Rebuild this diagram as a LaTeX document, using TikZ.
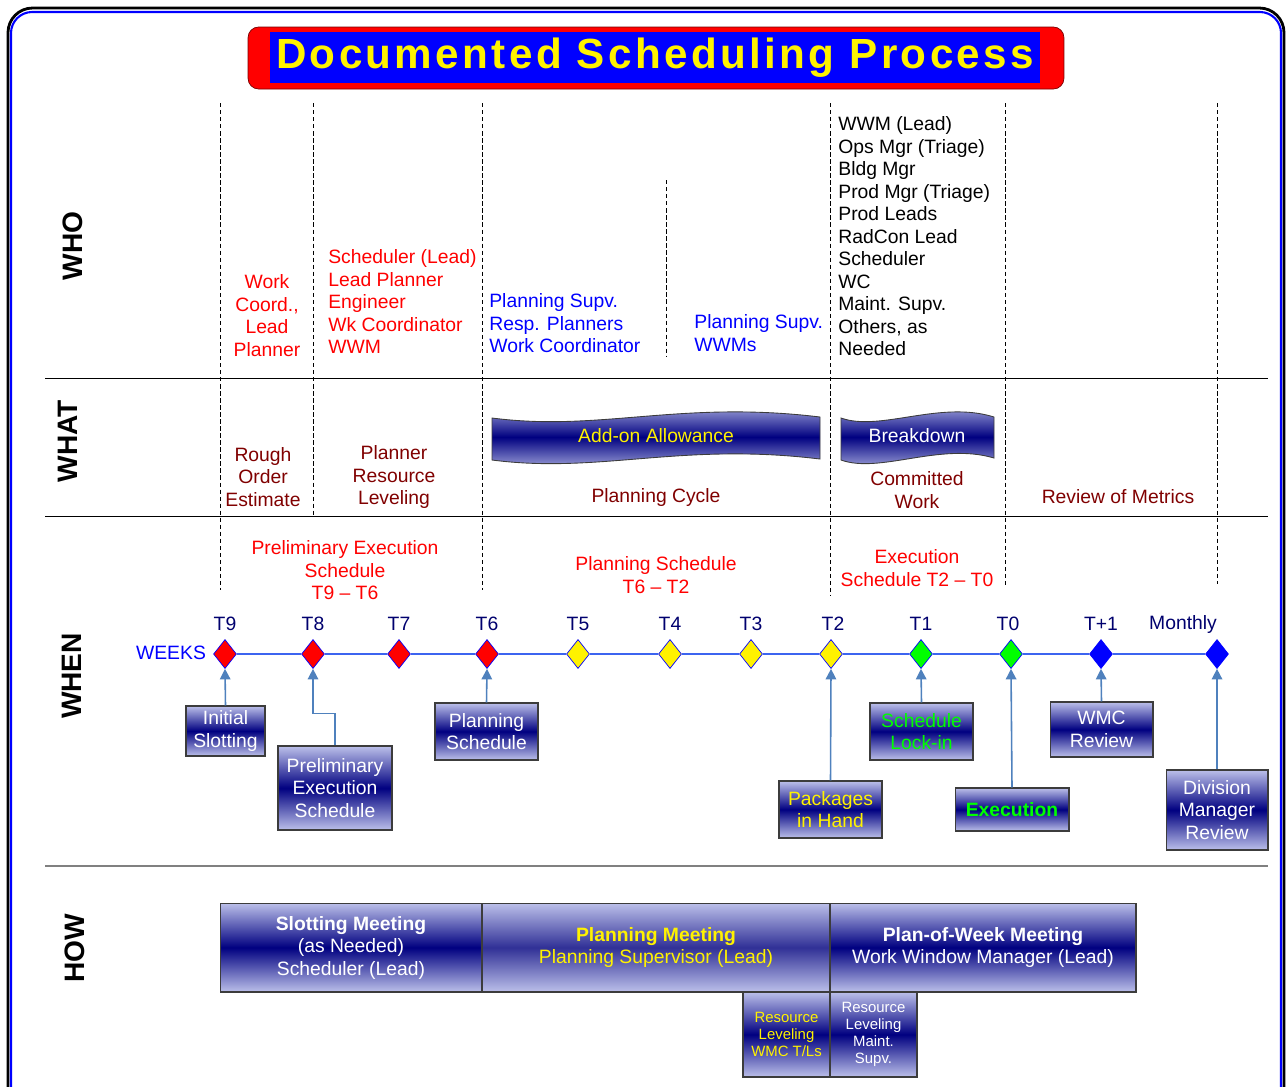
\documentclass[tikz,border=0pt]{standalone}
\usepackage{fontspec}
\setmainfont{Liberation Sans}
\usetikzlibrary{arrows.meta, positioning, shapes.geometric, calc}

\definecolor{boxdark}{RGB}{0,0,128}
\definecolor{boxlight}{RGB}{188,192,234}
\definecolor{planmid}{RGB}{48,48,150}
\definecolor{boxedge}{RGB}{60,60,60}
\definecolor{connblue}{RGB}{79,129,189}
\definecolor{axisblue}{RGB}{60,100,240}
\definecolor{maroon}{RGB}{128,0,0}
\definecolor{tnavy}{RGB}{0,0,110}

\begin{document}
\begin{tikzpicture}[x=0.02cm, y=-0.02cm, font=\fontsize{11}{12.8}\selectfont,
    box/.style={draw=boxedge, line width=0.6pt, top color=boxlight, bottom color=boxlight,
        middle color=boxdark, text=white, align=center, inner sep=0pt},
    conn/.style={draw=connblue, line width=0.9pt, -{Triangle[width=6pt,length=6pt]}},
    tick/.style={diamond, draw=blue, line width=0.4pt, inner sep=0pt,
        minimum width=0.46cm, minimum height=0.58cm},
    divider/.style={dash pattern=on 2.5pt off 1.5pt, line width=0.5pt},
    sect/.style={rotate=90, font=\fontsize{16}{18}\selectfont\bfseries},
    axis/.style={draw=axisblue, line width=0.8pt},
    roster/.style={align=left, anchor=west, inner sep=0pt}]
    \clip (0,0) rectangle (1287,1086);

    % Outer frame
    \draw[black, line width=1.6pt, rounded corners=14pt] (8,8) rectangle (1284,1120);
    \draw[blue, line width=1.2pt, rounded corners=12pt] (11,12) rectangle (1281,1120);

    % Title
    \node[fill=red, draw={rgb,255:red,120;green,0;blue,0}, rounded corners=6pt,
        minimum width=16.32cm, minimum height=1.24cm] (titleframe) at (656,58) {};
    \node[fill=blue, minimum width=15.28cm, minimum height=1.02cm, text=yellow,
        font=\fontsize{24}{26}\selectfont\bfseries\addfontfeature{LetterSpace=8}]
        (title) at (655,57.5) {Documented Scheduling Process};

    % Section rules
    \draw[line width=0.5pt] (45,378) -- (1268,378);
    \draw[line width=0.5pt] (45,516) -- (1268,516);
    \draw[gray, line width=0.6pt] (45,866) -- (1268,866);

    % Dashed dividers
    \foreach \x/\a/\b in {220/103/590, 313/103/516, 482/103/590, 666/180/357,
        830/103/596, 1005/103/586, 1217/103/584}
        \draw[divider] (\x,\a) -- (\x,\b);

    % Section names
    \foreach \nm/\x/\y in {WHO/73/246, WHAT/68/441, WHEN/72/676, HOW/75/948}
        \node[sect] (s\nm) at (\x,\y) {\nm};

    % WHO
    \node[red, align=center] (whoWC) at (267,315.5) {Work\\Coord.,\\Lead\\Planner};
    \node[red, roster] (whoSched) at (328,301.5)
        {Scheduler (Lead)\\Lead Planner\\Engineer\\Wk Coordinator\\WWM};
    \node[blue, roster] (whoPlan) at (489,323.5)
        {Planning Supv.\\Resp. Planners\\Work Coordinator};
    \node[blue, roster] (whoWWM) at (694,333) {Planning Supv.\\WWMs};
    \node[roster] (whoPOW) at (838,236.5)
        {WWM (Lead)\\Ops Mgr (Triage)\\Bldg Mgr\\Prod Mgr (Triage)\\Prod Leads\\RadCon Lead\\Scheduler\\WC\\Maint. Supv.\\Others, as\\Needed};

    % WHAT
    \node[maroon, align=center] (whatROE) at (263,477) {Rough\\Order\\Estimate};
    \node[maroon, align=center] (whatPRL) at (394,477) {Planner\\Resource\\Leveling};
    \node[maroon] (whatPC) at (656,497) {Planning Cycle};
    \node[maroon, align=center] (whatCW) at (917,490) {Committed\\Work};
    \node[maroon] (whatRM) at (1118,497) {Review of Metrics};

    % Wave banners
    \shade[top color=boxlight, bottom color=boxlight, middle color=boxdark, draw=boxedge, line width=0.5pt]
        (492,418) .. controls (600,432) and (680,400) .. (820,417) -- (820,459)
        .. controls (680,442) and (600,474) .. (492,460) -- cycle;
    \node[yellow] (addon) at (656,436) {Add-on Allowance};
    \shade[top color=boxlight, bottom color=boxlight, middle color=boxdark, draw=boxedge, line width=0.5pt]
        (841,418) .. controls (880,432) and (940,400) .. (994,417) -- (994,458)
        .. controls (940,442) and (880,474) .. (841,460) -- cycle;
    \node[white] (breakdown) at (917,436) {Breakdown};

    % WHEN
    \node[red, align=center] (whenPES) at (345,570.5) {Preliminary Execution\\Schedule\\T9 -- T6};
    \node[red, align=center] (whenPS) at (656,575) {Planning Schedule\\T6 -- T2};
    \node[red, align=center] (whenES) at (917,568) {Execution\\Schedule T2 -- T0};

    % Week markers
    \node[blue] (weeks) at (171,653) {WEEKS};
    \foreach \nm/\x/\c in {d9/225/red, d8/313/red, d7/399/red, d6/487/red,
        d5/578/yellow, d4/670/yellow, d3/751/yellow, d2/831/yellow,
        d1/921/green, d0/1011/green, dp/1101/blue, dm/1217/blue}
        \node[tick, fill=\c] (\nm) at (\x,654) {};
    \foreach \a/\b in {d9/d8, d8/d7, d7/d6, d6/d5, d5/d4, d4/d3, d3/d2, d2/d1, d1/d0, d0/dp, dp/dm}
        \draw[axis] (\a.east) -- (\b.west);
    \foreach \nm/\x/\t in {9/225/T9, 8/313/T8, 7/399/T7, 6/487/T6, 5/578/T5, 4/670/T4,
        3/751/T3, 2/833/T2, 1/921/T1, 0/1008/T0, p/1101/T+1, m/1183/Monthly}
        \node[tnavy] (t\nm) at (\x,624) {\t};

    % Milestone boxes
    \node[box, minimum width=1.58cm, minimum height=1.0cm] (bInit) at (225.5,731) {Initial\\Slotting};
    \node[box, minimum width=2.28cm, minimum height=1.68cm] (bPrelim) at (335,788) {Preliminary\\Execution\\Schedule};
    \node[box, minimum width=2.06cm, minimum height=1.14cm] (bPlan) at (486.5,731.5) {Planning\\Schedule};
    \node[box, minimum width=2.06cm, minimum height=1.14cm, text=yellow] (bPack) at (830.5,809.5) {Packages\\in Hand};
    \node[box, minimum width=2.06cm, minimum height=1.14cm, text=green] (bLock) at (921.5,731.5) {Schedule\\Lock-in};
    \node[box, minimum width=2.28cm, minimum height=0.86cm, text=green, font=\fontsize{11}{12.8}\selectfont\bfseries] (bExec) at (1012,809.5) {Execution};
    \node[box, minimum width=2.06cm, minimum height=1.1cm] (bWMC) at (1101.5,729.5) {WMC\\Review};
    \node[box, minimum width=2.04cm, minimum height=1.6cm] (bDiv) at (1217,810) {Division\\Manager\\Review};

    \draw[conn] (bInit.north) -- (d9.south);
    \draw[conn] (bPrelim.north) -- ++(0,-32) -| (d8.south);
    \draw[conn] (bPlan.north) -- (d6.south);
    \draw[conn] (bPack.north) -- (d2.south);
    \draw[conn] (bLock.north) -- (d1.south);
    \draw[conn] (bExec.north) -- (d0.south);
    \draw[conn] (bWMC.north) -- (dp.south);
    \draw[conn] (bDiv.north) -- (dm.south);

    % HOW
    \node[box, minimum width=5.24cm, minimum height=1.78cm] (hSlot) at (351,947.5)
        {\textbf{Slotting Meeting}\\(as Needed)\\Scheduler (Lead)};
    \node[box, middle color=planmid, minimum width=6.96cm, minimum height=1.78cm, text=yellow] (hPlan) at (656,947.5)
        {\textbf{Planning Meeting}\\Planning Supervisor (Lead)};
    \node[box, minimum width=6.12cm, minimum height=1.78cm] (hPOW) at (983,947.5)
        {\textbf{Plan-of-Week Meeting}\\Work Window Manager (Lead)};
    \node[box, minimum width=1.74cm, minimum height=1.70cm, text=yellow, font=\fontsize{8.5}{9.6}\selectfont]
        (hRL1) at (786.5,1034.5) {Resource\\Leveling\\WMC T/Ls};
    \node[box, minimum width=1.74cm, minimum height=1.70cm, font=\fontsize{8.5}{9.6}\selectfont]
        (hRL2) at (873.5,1034.5) {Resource\\Leveling\\Maint.\\Supv.};
\end{tikzpicture}
\end{document}
